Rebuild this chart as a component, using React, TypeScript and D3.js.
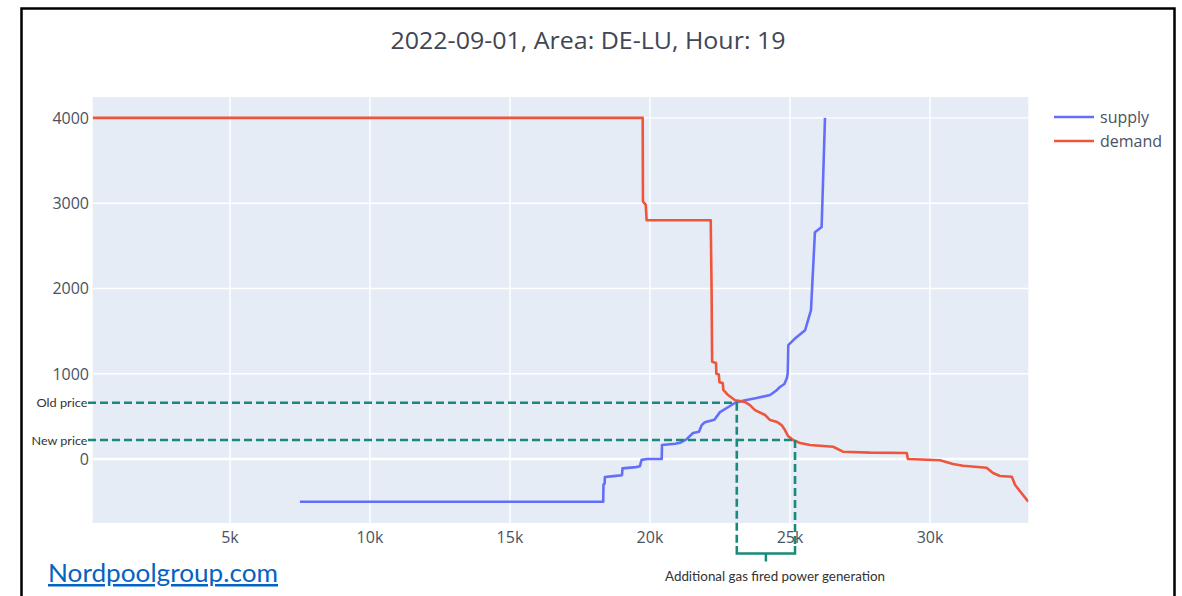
import React from "react";
import * as d3 from "d3";

// ---- data (volume in MW, price in EUR/MWh) ----
const supplyVolume = [7500, 18330, 18340, 18380, 18390, 18700, 19000, 19020, 19500, 19640, 19700, 19900, 20420, 20430, 20900, 21070, 21300, 21540, 21750, 21850, 21960, 22300, 22500, 22800, 23040, 23400, 23810, 24290, 24500, 24640, 24800, 24890, 24920, 24940, 25200, 25540, 25750, 25890, 26130, 26250];
const supplyPrice = [-500, -500, -300, -290, -210, -200, -190, -110, -95, -85, -10, 0, 0, 165, 180, 190, 230, 305, 320, 400, 430, 460, 550, 610, 660, 690, 715, 750, 800, 845, 880, 950, 1008, 1336, 1420, 1510, 1747, 2660, 2720, 4000];

const demandVolume = [100, 19740, 19750, 19850, 19880, 22170, 22200, 22220, 22360, 22370, 22460, 22480, 22600, 22620, 22790, 23040, 23390, 23570, 23750, 24110, 24290, 24540, 24700, 24820, 24930, 25110, 25360, 25710, 26540, 26890, 27860, 29170, 29210, 30360, 30820, 31180, 32020, 32250, 32500, 32920, 33040, 33510];
const demandPrice = [4000, 4000, 3020, 2980, 2800, 2800, 1980, 1140, 1125, 1000, 990, 900, 890, 810, 750, 690, 670, 633, 574, 516, 457, 434, 398, 340, 270, 223, 188, 164, 144, 86, 75, 70, 0, -15, -59, -79, -102, -164, -199, -207, -305, -500];

const xTicks = [5000, 10000, 15000, 20000, 25000, 30000];
const xTickLabels = ["5k", "10k", "15k", "20k", "25k", "30k"];
const yTicks = [0, 1000, 2000, 3000, 4000];
const yTickLabels = ["0", "1000", "2000", "3000", "4000"];

const seriesNames = ["supply", "demand"];
const seriesColors = ["#636efa", "#ef553b"];

const priceLabels = ["Old price", "New price"];
const priceValues = [660, 223];
const priceVolumes = [23100, 25180];

const titleText = "2022-09-01, Area: DE-LU, Hour: 19";
const bracketText = "Additional gas fired power generation";
const sourceText = "Nordpoolgroup.com";

// ---- layout ----
const W = 1182;
const H = 596;
const plot = { left: 92.7, right: 1028.3, top: 97, bottom: 523 };
const FONT = "'Open Sans', 'DejaVu Sans', sans-serif";
const NOTE_FONT = "Lato, 'Open Sans', sans-serif";
const TEXT = "#4a5262";
const TEAL = "#18897a";

export default function App() {
  const x = d3.scaleLinear().domain([100, 33510]).range([plot.left, plot.right]);
  const y = d3.scaleLinear().domain([-750, 4245]).range([plot.bottom, plot.top]);

  const line = d3
    .line<[number, number]>()
    .x((d) => x(d[0]))
    .y((d) => y(d[1]));

  const supply: [number, number][] = supplyVolume.map((v, i) => [v, supplyPrice[i]]);
  const demand: [number, number][] = demandVolume.map((v, i) => [v, demandPrice[i]]);
  const series = [supply, demand];

  const bracketY = 553.5;
  const bracketTop = 546;
  const xa = x(priceVolumes[0]);
  const xb = x(priceVolumes[1]);
  const xm = (xa + xb) / 2;
  const labelWidths = [51, 56];

  return (
    <div style={{ position: "absolute", left: 0, top: 0, width: W, height: H, background: "#fff" }}>
      <svg width={W} height={H} viewBox={`0 0 ${W} ${H}`} style={{ display: "block" }}>
        <defs>
          <clipPath id="plotclip">
            <rect x={plot.left} y={plot.top} width={plot.right - plot.left} height={plot.bottom - plot.top} />
          </clipPath>
        </defs>
        <rect x={0} y={0} width={W} height={H} fill="#fff" />
        {/* frame */}
        <path d={`M21.5,${H + 5} V8.5 H1174.5 V${H + 5}`} fill="none" stroke="#000" strokeWidth={2.5} />

        {/* title */}
        <text x={588} y={40} textAnchor="middle" dominantBaseline="central" fontFamily={FONT} fontSize={23.5} fill="#3f4654" textLength={395} lengthAdjust="spacingAndGlyphs">
          {titleText}
        </text>

        {/* plot background */}
        <rect x={plot.left} y={plot.top} width={plot.right - plot.left} height={plot.bottom - plot.top} fill="#e5ecf6" />

        {/* grid */}
        {xTicks.map((t) => (
          <line key={"gx" + t} x1={x(t)} x2={x(t)} y1={plot.top} y2={plot.bottom} stroke="#fff" strokeWidth={1.4} />
        ))}
        {yTicks.map((t) => (
          <line key={"gy" + t} x1={plot.left} x2={plot.right} y1={y(t)} y2={y(t)} stroke="#fff" strokeWidth={t === 0 ? 2.6 : 1.4} />
        ))}

        {/* tick labels */}
        {xTicks.map((t, i) => (
          <text key={"tx" + t} x={x(t)} y={537} textAnchor="middle" dominantBaseline="central" fontFamily={FONT} fontSize={16} fill={TEXT}>
            {xTickLabels[i]}
          </text>
        ))}
        {yTicks.map((t, i) => (
          <text key={"ty" + t} x={89} y={y(t)} textAnchor="end" dominantBaseline="central" fontFamily={FONT} fontSize={16} fill={TEXT}>
            {yTickLabels[i]}
          </text>
        ))}

        {/* curves */}
        <g clipPath="url(#plotclip)">
          {series.map((s, i) => (
            <path key={seriesNames[i]} d={line(s) || ""} fill="none" stroke={seriesColors[i]} strokeWidth={2.6} strokeLinejoin="round" />
          ))}
        </g>

        {/* legend */}
        {seriesNames.map((n, i) => (
          <g key={"lg" + n}>
            <line x1={1054} x2={1094} y1={117 + i * 24} y2={117 + i * 24} stroke={seriesColors[i]} strokeWidth={2.6} />
            <text x={1100} y={117 + i * 24} dominantBaseline="central" fontFamily={FONT} fontSize={16} fill={TEXT}>
              {n}
            </text>
          </g>
        ))}

        {/* price annotations */}
        {priceLabels.map((lab, i) => {
          const py = y(priceValues[i]);
          const px = x(priceVolumes[i]);
          return (
            <g key={"pl" + lab}>
              <line x1={88} x2={px} y1={py} y2={py} stroke={TEAL} strokeWidth={2.6} strokeDasharray="8,4" />
              <line x1={px} x2={px} y1={py} y2={bracketTop} stroke={TEAL} strokeWidth={2.6} strokeDasharray="8,4" />
              <text x={87.5} y={py} textAnchor="end" dominantBaseline="central" fontFamily={NOTE_FONT} fontSize={12} fill="#333" textLength={labelWidths[i]} lengthAdjust="spacingAndGlyphs">
                {lab}
              </text>
            </g>
          );
        })}

        {/* bracket */}
        <path d={`M${xa},${bracketTop} V${bracketY} H${xb} V${bracketTop}`} fill="none" stroke={TEAL} strokeWidth={2.5} />
        <line x1={xm} x2={xm} y1={bracketY} y2={561.5} stroke={TEAL} strokeWidth={2.5} />
        <text x={775} y={576} textAnchor="middle" dominantBaseline="central" fontFamily={NOTE_FONT} fontSize={12.5} fill="#333" textLength={220} lengthAdjust="spacingAndGlyphs">
          {bracketText}
        </text>

        {/* source link */}
        <text x={48} y={582} fontFamily={NOTE_FONT} fontSize={25} fill="#0563c1" textDecoration="underline" textLength={230} lengthAdjust="spacingAndGlyphs">
          {sourceText}
        </text>
      </svg>
    </div>
  );
}
